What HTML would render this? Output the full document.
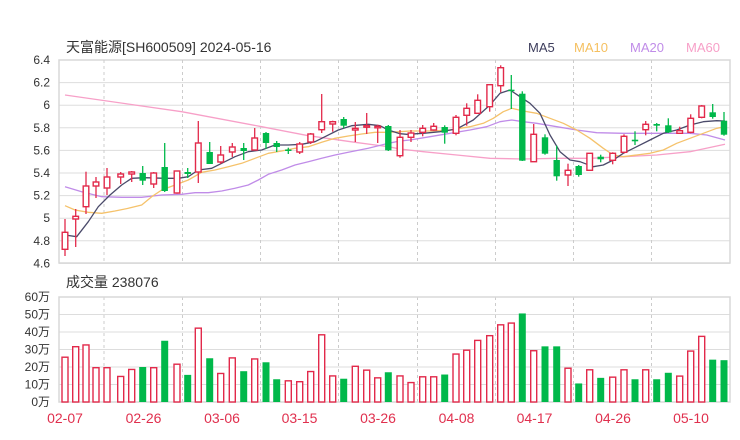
<!DOCTYPE html>
<html><head><meta charset="utf-8"><style>
html,body{margin:0;padding:0;background:#fff;}
svg{display:block;font-family:"Liberation Sans","Noto Sans CJK SC",sans-serif;}
</style></head><body>
<svg id="c" width="740" height="440" viewBox="0 0 740 440" xmlns="http://www.w3.org/2000/svg">
<rect width="740" height="440" fill="#fff"/>
<g id="grid"></g>
<g id="ma"></g>
<g id="cd"></g>
<g id="vol"></g>
<text x="66" y="52" font-size="14" fill="#333">天富能源[SH600509] 2024-05-16</text>
<text x="528" y="52" font-size="13" fill="#3d3d5c">MA5</text>
<text x="574" y="52" font-size="13" fill="#f5c060">MA10</text>
<text x="630" y="52" font-size="13" fill="#c08ce8">MA20</text>
<text x="686" y="52" font-size="13" fill="#f7a0c8">MA60</text>
<text x="66" y="287" font-size="14" fill="#333">成交量 238076</text>
<g id="lbl" font-size="12" fill="#333" text-anchor="end"></g>
<g id="dates" font-size="14" fill="#e0304e" text-anchor="middle"></g>
</svg>
<script>
var NS="http://www.w3.org/2000/svg";
function el(p,t,a,txt){var e=document.createElementNS(NS,t);for(var k in a)e.setAttribute(k,a[k]);if(txt!=null)e.textContent=txt;document.getElementById(p).appendChild(e);return e;}
var L=59,R=730;
// price grid
for(var i=0;i<10;i++){var y=60+i*22.6;el('grid','line',{x1:L,x2:R,y1:y,y2:y,stroke:'#ddd','stroke-width':1});
 el('lbl','text',{x:50,y:y+4},(6.4-i*0.2).toFixed(1).replace(/\.0$/,''));}
el('grid','rect',{x:L,y:60,width:R-L,height:203,fill:'none',stroke:'#d8d8d8','stroke-width':1.5});
var vx=[104,182.5,260.5,338.5,417.5,495.5,573.5,651.5];
vx.forEach(function(x){el('grid','line',{x1:x,x2:x,y1:60,y2:263,stroke:'#ccc','stroke-dasharray':'3,3'});
 el('grid','line',{x1:x,x2:x,y1:297,y2:402,stroke:'#ccc','stroke-dasharray':'3,3'});});
// volume grid
for(var i=0;i<7;i++){var y=297+i*17.5;el('grid','line',{x1:L,x2:R,y1:y,y2:y,stroke:'#ddd'});
 el('lbl','text',{x:50,y:y+4},(60-i*10)+'万');}
el('grid','rect',{x:L,y:297,width:R-L,height:105,fill:'none',stroke:'#d8d8d8','stroke-width':1.5});
// dates
[[65,'02-07'],[143.5,'02-26'],[222,'03-06'],[299.5,'03-15'],[378,'03-26'],[456.5,'04-08'],[534.5,'04-17'],[613,'04-26'],[691,'05-10']].forEach(function(d){el('dates','text',{x:d[0],y:423},d[1]);});
// candles: [x, bodyTop, bodyBot, wickTop, wickBot, up]
var C=[[65,232.3,249.3,219,256,1],[75.7,216.3,219,209,247,1],[86,186,206.7,171.7,214,1],[96,182,186,177,198,1],[107,177,188,168,195,1],[120.7,174,177,172,184,1],[131.7,172,174,171,182,1],[142.7,173,180.7,166,185,0],[153.7,173,184,172,188,1],[164.7,167,191,143,192,0],[177,171,193,170.7,193.7,1],[187.7,172,174,168,178,0],[198.3,143,172,121,183,1],[209.7,152,164,142,164,0],[220.7,155,162,146,164,1],[232.3,147,152,143,157,1],[243.7,148,151,143,160,0],[254.7,138,150,128,150,1],[266,133,143,132,149,0],[276.7,143,147,141,152,0],[288.3,149.5,151,147.7,154,0],[299.7,144,152,142,154,1],[310.7,134,142,133,144,1],[321.7,121.7,129.7,94,133,1],[332.7,121.7,124,120.7,131.7,1],[343.7,119,125.7,117,128,0],[355.3,128.3,130,122,142,1],[366.7,125.7,127,113,134,1],[377.7,126.3,127.7,124.7,143,1],[388.3,126,150.3,125,151,0],[400,137.3,155.7,130,157.7,1],[411,133,137.3,130,142,1],[422.7,128.3,132.3,125,136.3,1],[433.7,126.3,130,123,130.7,1],[444.7,127,132.7,125.3,143.7,0],[456,117.3,133.3,115,135.3,1],[466.7,108.3,115.3,103.3,125.7,1],[477.7,100.3,113.3,94.3,114,1],[489.7,84.7,106.7,84,111.7,1],[500.7,67.7,85.7,65.3,92.3,1],[511.3,89.7,91,75,109,0],[522.3,93.7,160.7,91.3,161,0],[533.7,134.3,161.7,124,161.7,1],[545,137.3,153.7,134.3,154.7,0],[556.7,160,176.3,145.7,180.7,0],[568,170.3,175,163.7,186,1],[578.7,166,175,165,176.7,0],[589.7,153.3,170.3,153.3,170.3,1],[600.7,156.7,159.3,154.7,162.3,0],[612.7,153.3,160.3,152.3,164.3,1],[624,136.3,152.3,134.3,153.3,1],[635,139.7,141.3,131.3,145,0],[645.7,124.3,129.7,121,135.3,1],[656.7,124,125.7,123,131.3,0],[668.3,125.3,132.3,118.3,133,0],[679.7,130.7,133.3,126.7,134,1],[690.7,118.3,132.3,114.3,133.3,1],[701.7,106,117.3,105,118.3,1],[712.7,112.3,117,104,118.7,0],[724,120.7,134.7,112,135.7,0]];
var RED='#e2294a',GRN='#00b84a';
C.forEach(function(c){var col=c[5]?RED:GRN;var h=Math.max(c[2]-c[1],1.5);
 el('cd','line',{x1:c[0],x2:c[0],y1:c[3],y2:c[4],stroke:col,'stroke-width':1.3});
 if(c[5]) el('cd','rect',{x:c[0]-2.8,y:c[1],width:5.6,height:h,fill:'#fff',stroke:col,'stroke-width':1.4});
 else el('cd','rect',{x:c[0]-3.2,y:c[1],width:6.4,height:h,fill:col});});
// volumes [value, green]
var V=[[26,0],[32,0],[33,0],[20,0],[20,0],[15,0],[19,0],[20,1],[20,0],[35,1],[22,0],[15.5,1],[42.6,0],[25,1],[16.7,0],[25.6,0],[17.6,1],[25,0],[22.7,1],[13,1],[12.5,0],[12,0],[17.8,0],[38.8,0],[15.3,0],[13.3,1],[20.8,0],[18.6,0],[14.2,0],[17,1],[15.3,0],[11.5,0],[14.8,0],[14.8,0],[15.7,1],[27.8,0],[30,0],[35.6,0],[38.3,0],[44.5,0],[45.5,0],[50.6,1],[29.7,0],[31.8,1],[31.8,1],[19.7,0],[10.6,1],[18.8,0],[13.8,1],[14.6,0],[18.8,0],[13,1],[18.8,0],[13,1],[16.7,1],[15.2,0],[29.5,0],[37.9,0],[24.2,1],[23.9,1]];
V.forEach(function(v,i){var x=C[i][0];var h=v[0]*1.75;var y=402-h;
 if(v[1]) el('vol','rect',{x:x-3.5,y:y,width:7,height:h,fill:GRN});
 else el('vol','rect',{x:x-3,y:y+0.7,width:6,height:h-0.7,fill:'#fff',stroke:RED,'stroke-width':1.4});});
// MAs (zoom coords)
function line(a,b,off,col){var pts=[];a.forEach(function(p){pts.push([55+p[0]/3,55+p[1]/3]);});b.forEach(function(p){pts.push([390+p[0]/3,55+p[1]/3]);});
 el('ma','polyline',{points:pts.map(function(p){return p[0].toFixed(1)+','+p[1].toFixed(1)}).join(' '),fill:'none',stroke:col,'stroke-width':1.3,'stroke-linejoin':'round'});}
line([[30,120],[380,170],[620,215],[760,242],[900,262],[1000,275]],[[30,282],[100,290],[200,300],[300,310],[400,312],[500,310],[600,310],[700,305],[800,300],[900,290],[1005,268]],0,'#f7a0c8');
line([[30,395],[80,410],[140,425],[200,427],[260,427],[320,420],[380,418],[420,413],[460,413],[500,408],[540,400],[580,390],[610,375],[640,358],[680,345],[720,330],[760,320],[800,310],[840,300],[880,292],[940,280],[1000,265]],[[30,258],[60,255],[120,245],[180,235],[240,225],[290,215],[330,200],[365,195],[400,200],[440,205],[500,215],[560,225],[620,233],[700,235],[800,235],[900,235],[950,240],[1005,255]],0,'#c08ce8');
line([[30,452],[60,465],[100,472],[140,475],[180,468],[220,460],[260,450],[290,425],[320,405],[360,390],[400,375],[440,352],[480,345],[520,335],[560,325],[600,310],[640,295],[680,288],[720,280],[760,275],[800,262],[840,250],[880,243],[920,237],[960,232],[1000,232]],[[30,230],[60,228],[120,228],[180,225],[240,215],[280,205],[310,190],[340,170],[365,160],[400,168],[440,175],[480,190],[520,205],[560,225],[600,250],[640,280],[670,300],[700,305],[740,300],[780,295],[820,285],[860,265],[900,250],[940,235],[980,220],[1005,215]],0,'#f5c26b');
line([[30,540],[65,545],[100,500],[130,455],[165,420],[200,390],[230,370],[270,368],[330,370],[370,370],[400,365],[430,345],[470,340],[500,325],[540,305],[580,290],[620,285],[660,270],[700,270],[740,268],[780,260],[810,245],[850,225],[890,212],[940,208],[975,212],[1000,225]],[[30,236],[50,238],[100,235],[150,230],[200,222],[250,195],[300,150],[330,115],[360,105],[390,125],[420,145],[450,175],[480,240],[510,290],[540,315],[570,320],[610,335],[640,330],[670,315],[700,295],[740,275],[780,255],[820,235],[860,225],[900,210],[940,200],[980,197],[1005,198]],0,'#4a4a6a');
</script>
</body></html>
